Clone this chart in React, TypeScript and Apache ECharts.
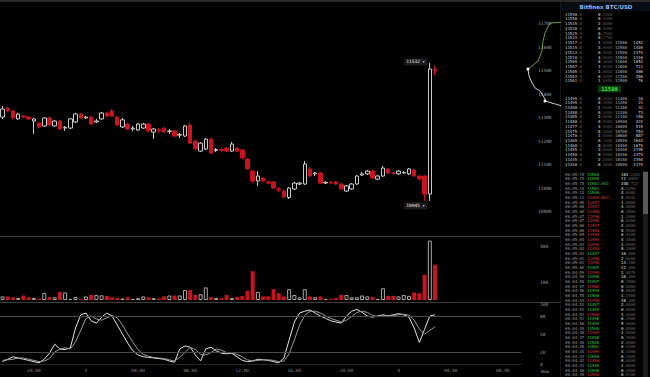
import React, { useEffect, useRef } from "react";
import * as echarts from "echarts";

// ---------- DATA ----------
// OHLC per candle: [open, close, low, high]
const candles: number[][] = [
  [11302, 11336, 11294, 11349], [11340, 11328, 11322, 11345], [11328, 11298, 11292, 11332], [11294, 11315, 11290, 11320],
  [11306, 11302, 11298, 11310], [11302, 11294, 11290, 11306], [11285, 11294, 11230, 11298], [11277, 11260, 11255, 11281],
  [11264, 11298, 11260, 11302], [11298, 11268, 11264, 11306], [11264, 11285, 11260, 11290], [11285, 11251, 11247, 11290],
  [11255, 11258, 11243, 11264], [11255, 11294, 11251, 11298], [11281, 11315, 11277, 11320], [11315, 11298, 11294, 11319],
  [11298, 11302, 11294, 11306], [11302, 11272, 11268, 11306], [11281, 11285, 11277, 11294], [11294, 11319, 11290, 11324],
  [11319, 11306, 11302, 11324], [11328, 11306, 11302, 11336], [11302, 11268, 11264, 11306], [11260, 11290, 11255, 11298],
  [11272, 11251, 11247, 11277], [11251, 11255, 11243, 11264], [11247, 11272, 11243, 11277], [11255, 11272, 11251, 11277],
  [11272, 11243, 11238, 11277], [11238, 11251, 11208, 11255], [11247, 11243, 11234, 11255], [11255, 11238, 11234, 11260],
  [11240, 11243, 11230, 11251], [11243, 11221, 11217, 11247], [11225, 11228, 11213, 11234], [11221, 11264, 11217, 11268],
  [11268, 11191, 11187, 11277], [11200, 11166, 11162, 11204], [11157, 11191, 11153, 11196], [11166, 11208, 11162, 11213],
  [11208, 11149, 11145, 11213], [11160, 11164, 11153, 11170], [11164, 11160, 11153, 11172], [11170, 11157, 11153, 11174],
  [11157, 11187, 11153, 11196], [11170, 11157, 11153, 11174], [11162, 11128, 11123, 11166], [11123, 11081, 11077, 11128],
  [11072, 11030, 11021, 11077], [11030, 11051, 11009, 11072], [11043, 11030, 11026, 11047], [11026, 11021, 11017, 11030],
  [11026, 11000, 10996, 11030], [10996, 10992, 10983, 11004], [10987, 10962, 10957, 10992], [10960, 11000, 10953, 11004],
  [10996, 11021, 10992, 11026], [11017, 11021, 11013, 11026], [11017, 11102, 11013, 11115], [11081, 11051, 11047, 11090],
  [11060, 11064, 11051, 11068], [11064, 11021, 11017, 11068], [11021, 11024, 11017, 11030], [11024, 11021, 11017, 11030],
  [11026, 11017, 11013, 11030], [11017, 10996, 10992, 11021], [10987, 11009, 10983, 11013], [10996, 11017, 10992, 11021],
  [11017, 11051, 11013, 11055], [11055, 11060, 11051, 11068], [11060, 11072, 11055, 11077], [11072, 11043, 11038, 11077],
  [11038, 11051, 11034, 11055], [11051, 11085, 11047, 11094], [11081, 11064, 11060, 11085], [11064, 11062, 11055, 11068],
  [11060, 11072, 11055, 11077], [11064, 11066, 11060, 11072], [11060, 11081, 11055, 11085], [11077, 11051, 11047, 11081],
  [11051, 11038, 11030, 11055], [11051, 10974, 10945, 11055], [10974, 11506, 10945, 11532], [11506, 11500, 11480, 11520],
];

const volumes: number[] = [
  20, 20, 15, 12, 25, 15, 12, 8, 40, 17, 15, 45, 42, 6, 17, 6, 20, 28, 28, 26,
  23, 15, 12, 8, 15, 5, 10, 20, 15, 10, 8, 20, 25, 25, 25, 55, 55, 28, 32, 70,
  15, 12, 10, 28, 12, 17, 22, 50, 160, 45, 20, 20, 60, 38, 20, 60, 28, 15, 60, 20,
  15, 20, 6, 6, 10, 28, 28, 15, 15, 25, 20, 17, 5, 65, 23, 23, 20, 28, 23, 42,
  38, 140, 330, 195.42,
];

const stochK: number[] = [
  4, 8, 12, 10, 8, 6, 4, 2, 8, 18, 33, 25, 24, 27, 60, 82, 85, 72, 68, 78,
  85, 80, 65, 50, 35, 22, 15, 12, 11, 10, 9, 8, 5, 3, 25, 30, 28, 15, 5, 25,
  28, 22, 18, 17, 18, 12, 6, 4, 5, 8, 7, 6, 4, 2, 10, 40, 70, 85, 88, 90,
  85, 80, 76, 72, 70, 68, 80, 88, 91, 86, 80, 78, 80, 82, 80, 82, 84, 82, 78, 60,
  36, 58, 80, 82,
];

const stochD: number[] = [
  6, 7, 8, 10, 10, 8, 6, 4, 5, 9, 20, 25, 27, 25, 37, 56, 76, 80, 75, 73,
  77, 81, 77, 65, 50, 36, 24, 16, 13, 11, 10, 9, 7, 5, 11, 19, 28, 24, 16, 15,
  19, 25, 23, 19, 18, 16, 12, 7, 5, 6, 7, 7, 6, 4, 5, 17, 40, 65, 81, 88,
  88, 85, 80, 76, 73, 70, 73, 79, 86, 88, 86, 81, 79, 80, 81, 81, 82, 83, 81, 73,
  58, 50, 56, 62,
];

const timeTicks = ["20:00", "3", "04:00", "08:00", "12:00", "16:00", "20:00", "4", "04:00", "08:00"];
const stochTicks = [0, 20, 50, 80, 100];
const volumeTicks = [100, 300];

// depth chart: [cumulative amount, price]
const depthAsks: number[][] = [[1, 11506], [11, 11540], [15, 11583], [16, 11626], [18, 11660], [23, 11702], [34, 11705]];
const depthBids: number[][] = [[1, 11506], [2, 11477], [5, 11447], [8, 11426], [13, 11413], [18, 11379], [18, 11370], [35, 11349]];

const askPrices = ["11590.0", "11550.0", "11535.0", "11530.0", "11525.0", "11522.0", "11517.0", "11515.0", "11513.0", "11510.0", "11509.0", "11507.0", "11505.0", "11503.0", "11501.0"];
const askAmounts = ["0.2000", "0.1000", "2.0000", "0.5000", "0.2500", "0.1760", "1.0000", "3.0000", "0.5000", "4.9000", "0.3000", "2.0000", "1.0002", "0.5000", "1.0000"];
const askLevels = ["", "", "", "", "", "", "11500", "11500", "11500", "11500", "11600", "11600", "11600", "11700", "11500"];
const askTotals = ["", "", "", "", "", "", "1452", "1449", "1374", "1316", "1052", "711", "306", "250", "76"];
const lastPrice = "11500";
const bidPrices = ["11499.0", "11495.0", "11490.0", "11488.0", "11485.0", "11480.0", "11477.0", "11475.0", "11470.0", "11465.0", "11460.0", "11455.0", "11450.0", "11445.0", "11440.0"];
const bidAmounts = ["0.1000", "0.2000", "1.5000", "0.3000", "2.0000", "0.5000", "4.0000", "0.2000", "1.0000", "0.1000", "0.8000", "3.0000", "0.5000", "2.2000", "0.4000"];
const bidLevels = ["11400", "11300", "11300", "11200", "11100", "10900", "10800", "10700", "10600", "10500", "10400", "10300", "10200", "10100", "10000"];
const bidTotals = ["10", "21", "31", "73", "150", "422", "519", "753", "887", "1043", "1674", "2195", "2374", "2394", "2174"];

const tradeTimes = [
  "00:05:15", "00:05:15", "00:05:15", "00:05:14", "00:05:13", "00:05:11", "00:05:09", "00:05:08", "00:05:08", "00:05:07", "00:05:07",
  "00:05:06", "00:05:06", "00:05:05", "00:05:04", "00:05:03", "00:05:03", "00:05:02", "00:05:01", "00:05:01", "00:05:00", "00:04:59",
  "00:04:58", "00:04:58", "00:04:57", "00:04:56", "00:04:55", "00:04:54", "00:04:53", "00:04:53", "00:04:52", "00:04:51", "00:04:50",
  "00:04:49", "00:04:48", "00:04:47", "00:04:46", "00:04:45", "00:04:44", "00:04:43", "00:04:42", "00:04:41", "00:04:40", "00:04:39",
];
const tradePrices = [
  "11500", "11500", "11501.033", "11501", "11500", "11499.033", "11497", "11497", "11498", "11496", "11495",
  "11497", "11494", "11495", "11493", "11496", "11494", "11497", "11498", "11496", "11495", "11499",
  "11498", "11497", "11500", "11499", "11500", "11498", "11497", "11499", "11500", "11498", "11499",
  "11500", "11499", "11498", "11500", "11501", "11499", "11500", "11498", "11499", "11500", "11501",
];
const tradeSides = [
  "b", "b", "b", "b", "b", "s", "s", "s", "s", "s", "s",
  "s", "s", "s", "s", "s", "s", "b", "s", "s", "b", "s",
  "b", "b", "s", "b", "b", "s", "b", "b", "s", "b", "b",
  "b", "s", "b", "b", "b", "s", "b", "s", "b", "b", "s",
];
const tradeAmounts = [
  "183.2301", "11.0002", "240.712", "4.2200", "4.0000", "2.9442", "1.0000", "4.0000", "0.4500", "1.2000", "0.0200",
  "2.0000", "0.5000", "0.0100", "3.2000", "1.0000", "0.3000", "10.000", "2.5000", "13.200", "12.000", "1.9070",
  "10.400", "0.2500", "0.5000", "9.0000", "1.2000", "28.300", "2.0000", "0.6000", "1.0000", "0.2000", "5.0000",
  "0.0500", "1.5000", "0.3000", "2.0000", "0.4400", "3.1000", "0.1000", "0.6000", "1.0000", "0.2000", "0.0100",
];

const CATEGORY_COUNT = 100;
const FIRST_TICK = 6;
const TICK_EVERY = 10;

// ---------- STYLE ----------
const RED = "#c8141e";
const UP = "#c9c9c9";
const MONO = '"DejaVu Sans Mono", monospace';
const SANS = '"DejaVu Sans", sans-serif';
const OB_FONT = 4;

function splitNum(s: string, w = "w", d = "d") {
  const k = s.indexOf(".");
  if (k < 0) return `{${w}|${s}}`;
  return `{${w}|${s.slice(0, k)}}{${d}|${s.slice(k)}}`;
}

const rich = (bright: string, dim: string, size = OB_FONT) => ({
  w: { fill: bright, color: bright, fontSize: size, fontFamily: MONO },
  d: { fill: dim, color: dim, fontSize: size, fontFamily: MONO },
});

function t(x: number, y: number, text: string, fill: string, align = "left", size = OB_FONT, extra: any = {}) {
  return {
    type: "text",
    x,
    y,
    silent: true,
    style: {
      text,
      fill,
      fontSize: size,
      fontFamily: MONO,
      textAlign: align,
      textVerticalAlign: "middle",
      ...extra,
    },
  };
}

function buildGraphic() {
  const g: any[] = [];
  // frame
  g.push({ type: "rect", shape: { x: 0, y: 0, width: 650, height: 2 }, style: { fill: "#2a2a2a" }, silent: true });
  g.push({ type: "line", shape: { x1: 0, y1: 236.5, x2: 560, y2: 236.5 }, style: { stroke: "#3a3a3a", lineWidth: 1 }, silent: true });
  g.push({ type: "line", shape: { x1: 0, y1: 302.5, x2: 560, y2: 302.5 }, style: { stroke: "#3a3a3a", lineWidth: 1 }, silent: true });
  g.push({ type: "line", shape: { x1: 560.5, y1: 2, x2: 560.5, y2: 377 }, style: { stroke: "#161616", lineWidth: 1 }, silent: true });

  // title
  g.push({ type: "rect", shape: { x: 561, y: 2, width: 89, height: 9 }, style: { fill: "#060b14" }, silent: true });
  g.push({
    type: "text", x: 606, y: 6.5, silent: true,
    style: { text: "Bitfinex BTC/USD", fill: "#8fb6e6", fontSize: 5.5, fontWeight: "bold", fontFamily: SANS, textAlign: "center", textVerticalAlign: "middle" },
  });

  // asks
  askPrices.forEach((p, i) => {
    const y = 14 + i * 4.78;
    g.push(t(565, y, splitNum(p), "#ccc", "left", OB_FONT, { rich: rich("#cfcfcf", "#6a6a6a") }));
    g.push(t(598, y, splitNum(askAmounts[i]), "#ccc", "left", OB_FONT, { rich: rich("#e0e0e0", "#555") }));
    if (askLevels[i]) g.push(t(615, y, askLevels[i], "#bbb"));
    if (askTotals[i]) g.push(t(643, y, askTotals[i], "#ddd", "right"));
  });
  // last price
  g.push({ type: "rect", shape: { x: 598, y: 85.5, width: 23, height: 7 }, style: { fill: "#0d3a10" }, silent: true });
  g.push({
    type: "text", x: 609.5, y: 89, silent: true,
    style: { text: lastPrice, fill: "#3fe33f", fontSize: 5.5, fontWeight: "bold", fontFamily: MONO, textAlign: "center", textVerticalAlign: "middle" },
  });
  // bids
  bidPrices.forEach((p, i) => {
    const y = 98 + i * 4.72;
    g.push(t(565, y, splitNum(p), "#ccc", "left", OB_FONT, { rich: rich("#cfcfcf", "#6a6a6a") }));
    g.push(t(598, y, splitNum(bidAmounts[i]), "#ccc", "left", OB_FONT, { rich: rich("#e0e0e0", "#555") }));
    g.push(t(615, y, bidLevels[i], "#bbb"));
    g.push(t(643, y, bidTotals[i], "#ddd", "right"));
  });
  // trades
  g.push({ type: "rect", shape: { x: 643, y: 171, width: 5, height: 206 }, style: { fill: "#1a1a1a" }, silent: true });
  g.push({ type: "rect", shape: { x: 643, y: 172, width: 5, height: 42 }, style: { fill: "#5a5a5a" }, silent: true });
  tradeTimes.forEach((tm, i) => {
    const y = 174 + i * 4.67;
    const col = tradeSides[i] === "b" ? "#3fd13f" : "#e0383a";
    g.push(t(565, y, tm, "#9a9a9a"));
    g.push(t(587, y, tradePrices[i], col));
    g.push(t(621, y, splitNum(tradeAmounts[i]), "#ddd", "left", OB_FONT, { rich: rich("#e6e6e6", "#666") }));
  });
  g.push(t(545, 371, "Now", "#9a9a9a", "center", 4.5));
  return g;
}

export default function App() {
  const ref = useRef<HTMLDivElement>(null);
  useEffect(() => {
    if (!ref.current) return;
    const chart = echarts.init(ref.current, undefined, { renderer: "svg" });
    const categories = Array.from({ length: CATEGORY_COUNT }, (_, i) => String(i));
    const last = candles.length - 1;
    const hi = candles[last - 1][3];
    const lo = candles[last - 1][2];

    const axisLbl = { color: "#a0a0a0", fontSize: 4.5, fontFamily: MONO };
    const option: any = {
      animation: false,
      backgroundColor: "#000",
      grid: [
        { left: 0, top: 4, width: 521, height: 231 },
        { left: 0, top: 237, width: 521, height: 63 },
        { left: 0, top: 304, width: 521, height: 60 },
        { left: 527, top: 4, width: 33, height: 231 },
      ],
      xAxis: [
        { type: "category", gridIndex: 0, data: categories, show: false },
        { type: "category", gridIndex: 1, data: categories, show: false },
        {
          type: "category", gridIndex: 2, data: categories,
          axisLine: { lineStyle: { color: "#262626" } },
          axisTick: { show: false },
          axisLabel: {
            ...axisLbl, color: "#8a8a8a", margin: 4,
            interval: (idx: number) => idx >= FIRST_TICK && (idx - FIRST_TICK) % TICK_EVERY === 0,
            formatter: (_v: string, idx: number) => timeTicks[(idx - FIRST_TICK) / TICK_EVERY] ?? "",
          },
        },
        { type: "value", gridIndex: 3, min: 0, max: 33, show: false },
      ],
      yAxis: [
        {
          type: "value", gridIndex: 0, position: "right", min: 10800, max: 11783, interval: 100,
          splitLine: { show: false }, axisLine: { show: false }, axisTick: { show: false },
          axisLabel: { ...axisLbl, margin: 17, showMinLabel: false, showMaxLabel: false, formatter: (v: number) => String(v) },
        },
        {
          type: "value", gridIndex: 1, position: "right", min: 0, max: 350, interval: 100,
          splitLine: { show: false }, axisLine: { show: false }, axisTick: { show: false },
          axisLabel: { ...axisLbl, margin: 19, showMaxLabel: false, formatter: (v: number) => (volumeTicks.includes(v) ? String(v) : "") },
        },
        {
          type: "value", gridIndex: 2, position: "right", min: 0, max: 100, interval: 10,
          splitLine: { show: false }, axisLine: { show: false }, axisTick: { show: false },
          axisLabel: { ...axisLbl, margin: 19, formatter: (v: number) => (stochTicks.includes(v) ? String(v) : "") },
        },
        { type: "value", gridIndex: 3, min: 10800, max: 11783, show: false },
      ],
      series: [
        {
          type: "candlestick", xAxisIndex: 0, yAxisIndex: 0, data: candles, barWidth: 4,
          itemStyle: { color: "#000", color0: RED, borderColor: UP, borderColor0: RED, borderWidth: 1 },
          markPoint: {
            symbol: "rect", symbolSize: [1, 1], itemStyle: { color: "transparent" },
            label: {
              show: true, color: "#e8e8e8", fontSize: 4.5, fontFamily: MONO, backgroundColor: "#1c1c1c",
              padding: [1, 2], position: "left", distance: 2,
              formatter: (p: any) => `${p.value} ▸`,
            },
            data: [
              { coord: [last - 1, hi], value: hi, label: { offset: [0, -1] } },
              { coord: [last - 1, lo], value: lo, label: { offset: [0, 5] } },
            ],
          },
        },
        {
          type: "bar", xAxisIndex: 1, yAxisIndex: 1, barWidth: 4,
          data: volumes.map((v, i) => {
            const up = candles[i][1] >= candles[i][0];
            return {
              value: v,
              itemStyle: up ? { color: "#000", borderColor: "#a8a8a8", borderWidth: 1 } : { color: RED },
            };
          }),
          markLine: {
            silent: true, symbol: "none",
            lineStyle: { opacity: 0 },
            label: { show: true, position: "end", distance: 5, color: "#a8e8a0", fontSize: 4.5, fontFamily: MONO, formatter: (p: any) => `+ ${p.value}` },
            data: [{ yAxis: volumes[last] }],
          },
        },
        {
          type: "line", xAxisIndex: 2, yAxisIndex: 2, data: stochK, symbol: "none",
          lineStyle: { color: "#e2e2e2", width: 1 },
          markLine: {
            silent: true, symbol: "none", label: { show: false },
            lineStyle: { color: "#4a4a4a", width: 1, type: "solid" },
            data: [{ yAxis: 80 }, { yAxis: 20 }],
          },
        },
        {
          type: "line", xAxisIndex: 2, yAxisIndex: 2, data: stochD, symbol: "none",
          lineStyle: { color: "#9c9c9c", width: 1 },
        },
        {
          type: "line", xAxisIndex: 3, yAxisIndex: 3, data: depthAsks,
          symbol: "circle", symbolSize: (_v: any, p: any) => (p.dataIndex === 0 ? 3 : 0),
          itemStyle: { color: "#fff" },
          lineStyle: { color: "#6f9c52", width: 1 },
        },
        {
          type: "line", xAxisIndex: 3, yAxisIndex: 3, data: depthBids,
          symbol: "circle", symbolSize: (_v: any, p: any) => (p.dataIndex === 6 ? 3 : 0),
          itemStyle: { color: "#fff" },
          lineStyle: { color: "#cfcfcf", width: 1 },
        },
      ],
      graphic: buildGraphic(),
    };
    chart.setOption(option);
    return () => chart.dispose();
  }, []);
  return (
    <div
      ref={ref}
      style={{ position: "fixed", left: 0, top: 0, width: 650, height: 377, background: "#000" }}
    />
  );
}
